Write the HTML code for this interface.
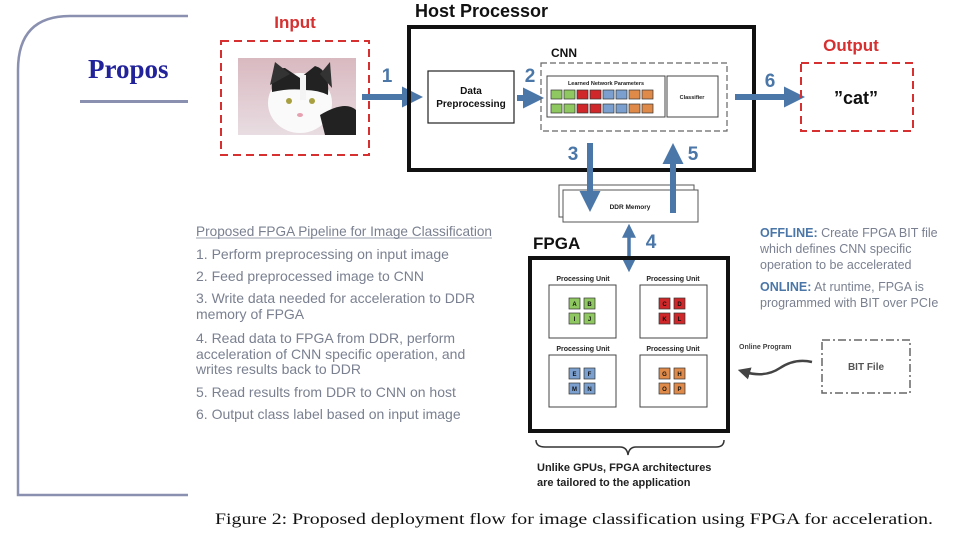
<!DOCTYPE html>
<html><head><meta charset="utf-8"><style>
html,body{margin:0;padding:0;background:#fff;width:960px;height:540px;overflow:hidden}
svg{display:block}
text{font-family:"Liberation Sans",sans-serif}
</style></head><body>
<svg width="960" height="540" viewBox="0 0 960 540" xmlns="http://www.w3.org/2000/svg">
<defs>
<marker id="ah" markerWidth="3.5" markerHeight="3.5" refX="2" refY="1.75" orient="auto" markerUnits="strokeWidth"><path d="M0,0 L3.5,1.75 L0,3.5 Z" fill="#4a76a8"/></marker>
<marker id="ahs" markerWidth="4" markerHeight="4" refX="2.5" refY="2" orient="auto-start-reverse" markerUnits="strokeWidth"><path d="M0,0 L4,2 L0,4 Z" fill="#4a76a8"/></marker>
<marker id="ahd" markerWidth="5" markerHeight="5" refX="2" refY="2.5" orient="auto-start-reverse" markerUnits="strokeWidth"><path d="M0,0 L5,2.5 L0,5 Z" fill="#444"/></marker>
<linearGradient id="catbg" x1="0" y1="0" x2="0" y2="1"><stop offset="0" stop-color="#d9b9c0"/><stop offset="1" stop-color="#e8dde2"/></linearGradient>
</defs>
<path d="M188,16 H70 Q18,16 18,70 V495 H188" fill="none" stroke="#8a90b0" stroke-width="2.5"/>
<text x="88" y="78" font-weight="bold" font-size="27" fill="#22229a" style="font-family:'Liberation Serif',serif">Propos</text>
<rect x="80" y="100" width="108" height="3" fill="#8a90b0"/>
<rect x="188" y="0" width="772" height="540" fill="#fff"/>

<text x="295" y="28" text-anchor="middle" font-weight="bold" font-size="17" fill="#d63030">Input</text>
<rect x="221" y="41" width="148" height="114" fill="none" stroke="#d63030" stroke-width="2" stroke-dasharray="8,5"/>
<rect x="238" y="58" width="118" height="77" fill="url(#catbg)"/>
<ellipse cx="300" cy="103" rx="32" ry="30" fill="#fafafa"/>
<path d="M272,92 Q270,68 285,68 L300,78 L315,66 Q330,70 328,95 Q318,90 305,90 Q290,88 272,92Z" fill="#222"/>
<path d="M270,85 L275,62 L290,74Z M320,74 L330,62 L332,88Z" fill="#333"/>
<path d="M320,115 Q345,100 356,110 L356,135 L325,135Z" fill="#222"/>
<rect x="300" y="75" width="6" height="25" fill="#f4f4f4"/>
<circle cx="289" cy="101" r="3" fill="#a8a040"/><circle cx="312" cy="101" r="3" fill="#a8a040"/>
<ellipse cx="300" cy="115" rx="3" ry="2" fill="#e7a0b0"/>

<line x1="362" y1="97" x2="414" y2="97" stroke="#4a76a8" stroke-width="6" marker-end="url(#ah)"/>
<text x="387" y="82" text-anchor="middle" font-weight="bold" font-size="19" fill="#4a76a8">1</text>

<text x="415" y="17" font-weight="bold" font-size="18" fill="#111">Host Processor</text>
<rect x="409" y="27" width="345" height="143" fill="none" stroke="#111" stroke-width="4"/>
<rect x="428" y="71" width="86" height="52" fill="#fff" stroke="#222" stroke-width="1.2"/>
<text x="471" y="94" text-anchor="middle" font-weight="bold" font-size="10" fill="#111">Data</text>
<text x="471" y="107" text-anchor="middle" font-weight="bold" font-size="10" fill="#111">Preprocessing</text>
<line x1="517" y1="98" x2="535" y2="98" stroke="#4a76a8" stroke-width="6" marker-end="url(#ah)"/>
<text x="530" y="82" text-anchor="middle" font-weight="bold" font-size="19" fill="#4a76a8">2</text>
<text x="551" y="57" font-weight="bold" font-size="12" fill="#111">CNN</text>
<rect x="541" y="63" width="186" height="68" fill="none" stroke="#666" stroke-width="1.2" stroke-dasharray="6,3"/>
<rect x="547" y="76" width="118" height="41" fill="#fff" stroke="#444" stroke-width="1"/>
<rect x="667" y="76" width="51" height="41" fill="#fff" stroke="#444" stroke-width="1"/>
<text x="606" y="85" text-anchor="middle" font-weight="bold" font-size="5.5" fill="#222">Learned Network Parameters</text>
<text x="692" y="99" text-anchor="middle" font-weight="bold" font-size="5.5" fill="#222">Classifier</text>
<g stroke="#333" stroke-width="0.7">
<rect x="551" y="90" width="11" height="9" fill="#8fc860"/><rect x="564" y="90" width="11" height="9" fill="#8fc860"/>
<rect x="577" y="90" width="11" height="9" fill="#d0282a"/><rect x="590" y="90" width="11" height="9" fill="#d0282a"/>
<rect x="603" y="90" width="11" height="9" fill="#7ba0d0"/><rect x="616" y="90" width="11" height="9" fill="#7ba0d0"/>
<rect x="629" y="90" width="11" height="9" fill="#e08a4a"/><rect x="642" y="90" width="11" height="9" fill="#e08a4a"/>
<rect x="551" y="104" width="11" height="9" fill="#8fc860"/><rect x="564" y="104" width="11" height="9" fill="#8fc860"/>
<rect x="577" y="104" width="11" height="9" fill="#d0282a"/><rect x="590" y="104" width="11" height="9" fill="#d0282a"/>
<rect x="603" y="104" width="11" height="9" fill="#7ba0d0"/><rect x="616" y="104" width="11" height="9" fill="#7ba0d0"/>
<rect x="629" y="104" width="11" height="9" fill="#e08a4a"/><rect x="642" y="104" width="11" height="9" fill="#e08a4a"/>
</g>

<line x1="735" y1="97" x2="796" y2="97" stroke="#4a76a8" stroke-width="6" marker-end="url(#ah)"/>
<text x="770" y="87" text-anchor="middle" font-weight="bold" font-size="19" fill="#4a76a8">6</text>
<text x="851" y="51" text-anchor="middle" font-weight="bold" font-size="17" fill="#d63030">Output</text>
<rect x="801" y="63" width="112" height="68" fill="none" stroke="#d63030" stroke-width="2" stroke-dasharray="8,5"/>
<text x="856" y="104" text-anchor="middle" font-weight="bold" font-size="18" fill="#111">”cat”</text>

<rect x="559" y="185" width="135" height="32" fill="#fff" stroke="#555" stroke-width="1"/>
<rect x="563" y="190" width="135" height="32" fill="#fff" stroke="#555" stroke-width="1"/>
<text x="630" y="209" text-anchor="middle" font-weight="bold" font-size="6.5" fill="#222">DDR Memory</text>
<line x1="590" y1="143" x2="590" y2="203" stroke="#4a76a8" stroke-width="6" marker-end="url(#ah)"/>
<text x="573" y="160" text-anchor="middle" font-weight="bold" font-size="19" fill="#4a76a8">3</text>
<line x1="673" y1="213" x2="673" y2="152" stroke="#4a76a8" stroke-width="6" marker-end="url(#ah)"/>
<text x="693" y="160" text-anchor="middle" font-weight="bold" font-size="19" fill="#4a76a8">5</text>
<line x1="629" y1="229" x2="629" y2="267" stroke="#4a76a8" stroke-width="3.5" marker-start="url(#ahs)" marker-end="url(#ahs)"/>
<text x="651" y="248" text-anchor="middle" font-weight="bold" font-size="19" fill="#4a76a8">4</text>

<text x="533" y="249" font-weight="bold" font-size="17" fill="#111">FPGA</text>
<rect x="530" y="258" width="198" height="173" fill="none" stroke="#111" stroke-width="4"/>
<g font-weight="bold" font-size="7" fill="#222" text-anchor="middle">
<text x="583" y="281">Processing Unit</text><text x="673" y="281">Processing Unit</text>
<text x="583" y="351">Processing Unit</text><text x="673" y="351">Processing Unit</text>
</g>
<g fill="#fff" stroke="#444" stroke-width="1">
<rect x="549" y="285" width="67" height="53"/><rect x="640" y="285" width="67" height="53"/>
<rect x="549" y="355" width="67" height="52"/><rect x="640" y="355" width="67" height="52"/>
</g>
<g stroke="#333" stroke-width="0.7">
<rect x="569" y="298" width="11" height="11" fill="#8fc860"/><rect x="584" y="298" width="11" height="11" fill="#8fc860"/>
<rect x="569" y="313" width="11" height="11" fill="#8fc860"/><rect x="584" y="313" width="11" height="11" fill="#8fc860"/>
<rect x="659" y="298" width="11" height="11" fill="#d0282a"/><rect x="674" y="298" width="11" height="11" fill="#d0282a"/>
<rect x="659" y="313" width="11" height="11" fill="#d0282a"/><rect x="674" y="313" width="11" height="11" fill="#d0282a"/>
<rect x="569" y="368" width="11" height="11" fill="#7ba0d0"/><rect x="584" y="368" width="11" height="11" fill="#7ba0d0"/>
<rect x="569" y="383" width="11" height="11" fill="#7ba0d0"/><rect x="584" y="383" width="11" height="11" fill="#7ba0d0"/>
<rect x="659" y="368" width="11" height="11" fill="#e08a4a"/><rect x="674" y="368" width="11" height="11" fill="#e08a4a"/>
<rect x="659" y="383" width="11" height="11" fill="#e08a4a"/><rect x="674" y="383" width="11" height="11" fill="#e08a4a"/>
</g>
<g font-weight="bold" font-size="6" fill="#111" text-anchor="middle">
<text x="574.5" y="306">A</text><text x="589.5" y="306">B</text><text x="574.5" y="321">I</text><text x="589.5" y="321">J</text>
<text x="664.5" y="306">C</text><text x="679.5" y="306">D</text><text x="664.5" y="321">K</text><text x="679.5" y="321">L</text>
<text x="574.5" y="376">E</text><text x="589.5" y="376">F</text><text x="574.5" y="391">M</text><text x="589.5" y="391">N</text>
<text x="664.5" y="376">G</text><text x="679.5" y="376">H</text><text x="664.5" y="391">O</text><text x="679.5" y="391">P</text>
</g>
<path d="M536,440 Q536,447 545,447 L620,447 Q627,447 628,455 Q629,447 636,447 L716,447 Q724,447 724,440" fill="none" stroke="#333" stroke-width="1.5"/>
<text x="537" y="471" font-weight="bold" font-size="11" fill="#222">Unlike GPUs, FPGA architectures</text>
<text x="537" y="486" font-weight="bold" font-size="11" fill="#222">are tailored to the application</text>

<rect x="822" y="340" width="88" height="53" fill="none" stroke="#666" stroke-width="1.5" stroke-dasharray="8,3,2,3"/>
<text x="866" y="370" text-anchor="middle" font-weight="bold" font-size="10" fill="#555">BIT File</text>
<text x="739" y="349" font-weight="bold" font-size="7" fill="#444">Online Program</text>
<path d="M812,362 Q795,358 780,368 Q765,378 745,372" fill="none" stroke="#444" stroke-width="2.5" marker-end="url(#ahd)"/>

<g font-size="12.5" fill="#7a8090">
<text x="760" y="237"><tspan font-weight="bold" fill="#4a76a8">OFFLINE:</tspan> Create FPGA BIT file</text>
<text x="760" y="253">which defines CNN specific</text>
<text x="760" y="269">operation to be accelerated</text>
<text x="760" y="291"><tspan font-weight="bold" fill="#4a76a8">ONLINE:</tspan> At runtime, FPGA is</text>
<text x="760" y="307">programmed with BIT over PCIe</text>
</g>

<g font-size="14" fill="#7a8090">
<text x="196" y="236" textLength="296" lengthAdjust="spacingAndGlyphs">Proposed FPGA Pipeline for Image Classification</text>
<line x1="196" y1="238" x2="492" y2="238" stroke="#7a8090" stroke-width="0.8"/>
<text x="196" y="259">1. Perform preprocessing on input image</text>
<text x="196" y="281">2. Feed preprocessed image to CNN</text>
<text x="196" y="303">3. Write data needed for acceleration to DDR</text>
<text x="196" y="319">memory of FPGA</text>
<text x="196" y="343">4. Read data to FPGA from DDR, perform</text>
<text x="196" y="359">acceleration of CNN specific operation, and</text>
<text x="196" y="374">writes results back to DDR</text>
<text x="196" y="397">5. Read results from DDR to CNN on host</text>
<text x="196" y="419">6. Output class label based on input image</text>
</g>

<text x="215" y="524" font-size="16" fill="#111" textLength="718" lengthAdjust="spacingAndGlyphs" style="font-family:'Liberation Serif',serif">Figure 2: Proposed deployment flow for image classification using FPGA for acceleration.</text>
</svg>
</body></html>
